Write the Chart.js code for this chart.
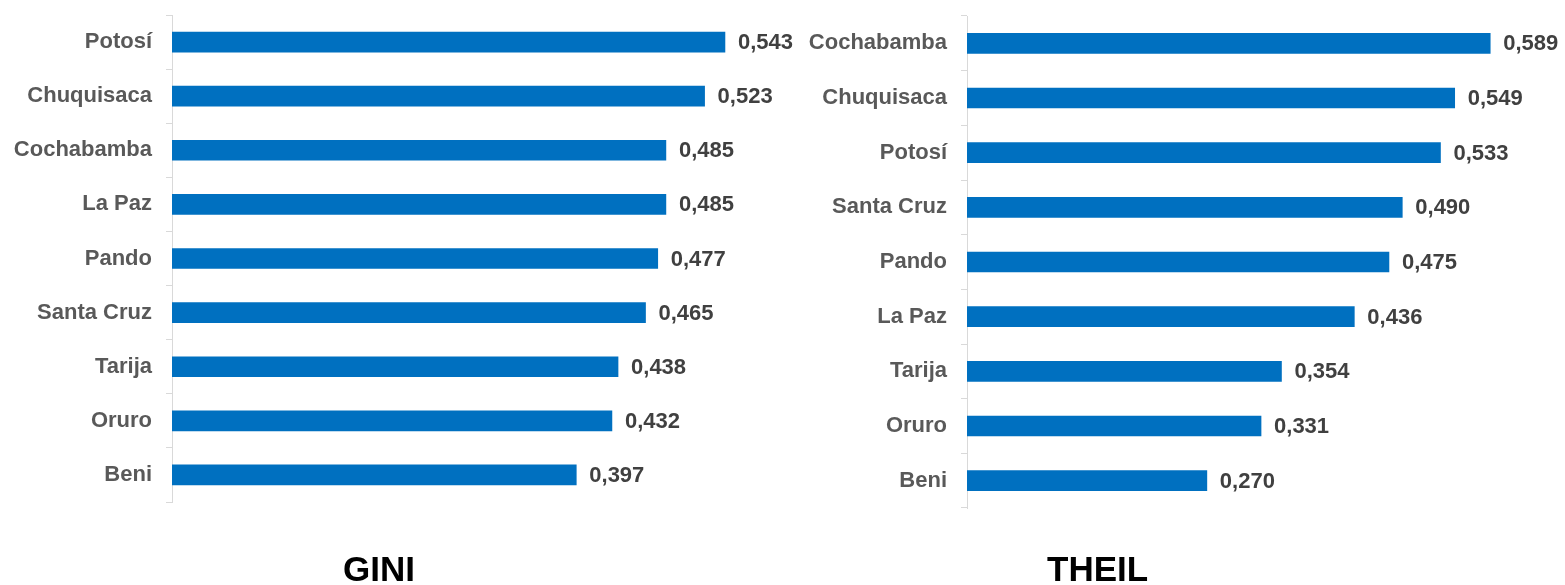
<!DOCTYPE html>
<html>
<head>
<meta charset="utf-8">
<script src="https://cdn.jsdelivr.net/npm/chart.js@4"></script>
<style>
  body { margin: 0; background: #fff; }
  #wrap { position: relative; width: 1565px; height: 585px; overflow: hidden; }
  .box { position: absolute; top: 0; height: 585px; }
  .title { position: absolute; font-family: "Liberation Sans", Arial, sans-serif; font-weight: bold; font-size: 35px; color: #000; }
</style>
</head>
<body>
<div id="wrap">
  <div class="box" style="left:0;width:800px;"><canvas id="gini"></canvas></div>
  <div class="box" style="left:800px;width:765px;"><canvas id="theil"></canvas></div>
  <div class="title" style="left:343px;top:549px;">GINI</div>
  <div class="title" style="left:1047px;top:549px;">THEIL</div>
</div>
<script>
// data
const giniLabels = ['Potosí', 'Chuquisaca', 'Cochabamba', 'La Paz', 'Pando', 'Santa Cruz', 'Tarija', 'Oruro', 'Beni'];
const giniValues = [0.543, 0.523, 0.485, 0.485, 0.477, 0.465, 0.438, 0.432, 0.397];
const theilLabels = ['Cochabamba', 'Chuquisaca', 'Potosí', 'Santa Cruz', 'Pando', 'La Paz', 'Tarija', 'Oruro', 'Beni'];
const theilValues = [0.589, 0.549, 0.533, 0.490, 0.475, 0.436, 0.354, 0.331, 0.270];

const barColor = '#0070c0';
const fontFamily = '"Liberation Sans", Arial, sans-serif';

// value labels at end of each bar
const valueLabels = {
    id: 'valueLabels',
    afterDatasetsDraw(chart) {
        const ctx = chart.ctx;
        const meta = chart.getDatasetMeta(0);
        ctx.save();
        ctx.font = 'bold 22px ' + fontFamily;
        ctx.fillStyle = '#404040';
        ctx.textAlign = 'left';
        ctx.textBaseline = 'middle';
        meta.data.forEach((bar, i) => {
            const v = chart.data.datasets[0].data[i];
            ctx.fillText(v.toFixed(3).replace('.', ','), bar.x + 13, bar.y + 1);
        });
        ctx.restore();
    }
};

function createBarChart(canvas, labels, values, w, axisWidth, xMax, pad) {
    canvas.width = w;
    canvas.height = 585;
    return new Chart(canvas, {
        type: 'bar',
        data: {
            labels: labels,
            datasets: [{
                data: values,
                backgroundColor: barColor,
                barThickness: 20
            }]
        },
        options: {
            indexAxis: 'y',
            responsive: false,
            animation: false,
            layout: { padding: pad },
            plugins: {
                legend: { display: false },
                tooltip: { enabled: false }
            },
            scales: {
                x: {
                    display: false,
                    min: 0,
                    max: xMax
                },
                y: {
                    afterFit: (scale) => {
                        scale.width = axisWidth;
                        scale.paddingTop = 0;
                        scale.paddingBottom = 0;
                    },
                    border: { display: true, color: '#d9d9d9' },
                    grid: {
                        drawOnChartArea: false,
                        drawTicks: true,
                        tickLength: 6,
                        color: '#d9d9d9'
                    },
                    ticks: {
                        padding: 14,
                        color: '#595959',
                        font: { family: fontFamily, size: 22, weight: 'bold' }
                    }
                }
            }
        },
        plugins: [valueLabels]
    });
}

createBarChart(document.getElementById('gini'), giniLabels, giniValues, 800, 172, 0.6,
    { top: 15, bottom: 83, left: 0, right: 17 });
createBarChart(document.getElementById('theil'), theilLabels, theilValues, 765, 167, 0.6,
    { top: 16, bottom: 77, left: 0, right: 65 });
</script>
</body>
</html>
